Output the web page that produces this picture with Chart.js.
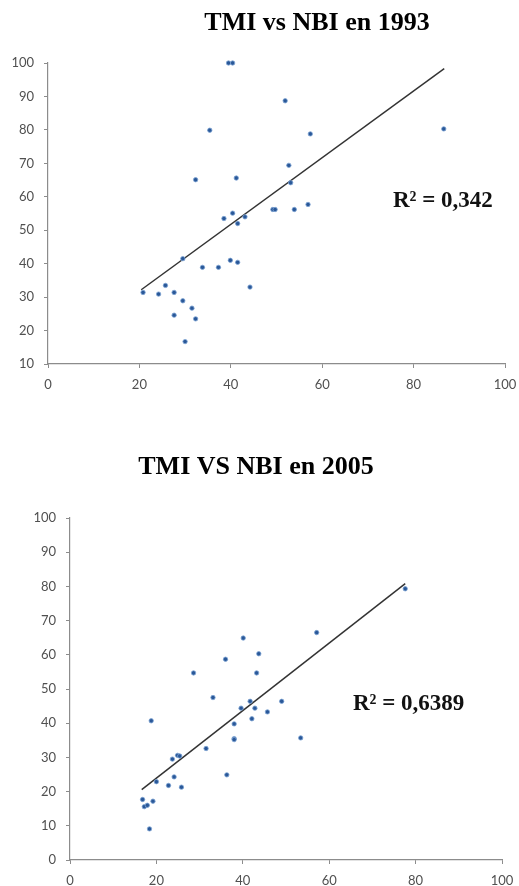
<!DOCTYPE html>
<html><head><meta charset="utf-8">
<script src="https://cdn.jsdelivr.net/npm/chart.js@4"></script>
<style>
html,body{margin:0;padding:0;background:#fff;overflow:hidden;width:519px;height:886px}
.wrap{position:absolute;left:0;width:519px}
#w1{top:0;height:420px}
#w2{top:440px;height:470px}
</style></head><body>
<div class="wrap" id="w1"><canvas id="c1"></canvas></div>
<div class="wrap" id="w2"><canvas id="c2"></canvas></div>
<script>
// ---- Data ----
const title1993 = 'TMI vs NBI en 1993';
const r2Label1993 = 'R² = 0,342';
const nbi1993 = [20.8,24.2,25.7,27.6,27.6,29.5,29.5,30.0,31.5,32.3,32.3,33.8,35.4,37.3,38.5,39.5,40.4,39.9,40.4,41.2,41.5,41.5,43.1,44.2,49.2,49.7,51.9,52.7,53.1,53.9,56.9,57.4,86.6];
const tmi1993 = [31.4,30.9,33.5,31.4,24.6,41.5,28.9,16.7,26.7,23.5,65.1,38.9,79.9,38.9,53.5,100,100,41.0,55.1,65.6,52.0,40.4,54.0,33.0,56.2,56.2,88.7,69.4,64.2,56.2,57.7,78.8,80.3];
const trendX1993 = [20.4, 86.7];
const trendY1993 = [32.2, 98.3];

const title2005 = 'TMI VS NBI en 2005';
const r2Label2005 = 'R² = 0,6389';
const nbi2005 = [16.8,17.2,17.9,18.4,18.8,19.2,20.0,22.8,23.7,24.1,24.9,25.4,25.8,28.6,31.5,33.1,36.0,36.3,38.0,38.0,38.0,39.6,40.1,41.7,42.1,42.8,43.2,43.7,45.7,49.0,53.4,57.1,77.6];
const tmi2005 = [17.7,15.6,16.0,9.1,40.7,17.2,22.9,21.8,29.5,24.3,30.6,30.4,21.3,54.7,32.6,47.5,58.7,24.9,39.8,35.5,35.2,44.4,64.9,46.4,41.3,44.4,54.7,60.3,43.3,46.4,35.7,66.5,79.3];
const trendX2005 = [16.6, 77.6];
const trendY2005 = [20.6, 80.8];

const xTicks = [0, 20, 40, 60, 80, 100];
const yTicks1993 = [10, 20, 30, 40, 50, 60, 70, 80, 90, 100];
const yTicks2005 = [0, 10, 20, 30, 40, 50, 60, 70, 80, 90, 100];

// ---- Helpers ----
const textPlugin = {
  id: 'texts',
  afterDraw(chart, args, opts) {
    const ctx = chart.ctx;
    (opts.items || []).forEach(it => {
      ctx.save();
      ctx.font = it.font;
      ctx.fillStyle = it.color;
      ctx.textAlign = it.align;
      ctx.textBaseline = 'middle';
      ctx.fillText(it.text, it.x, it.y);
      ctx.restore();
    });
  }
};

function pairs(xs, ys) { return xs.map((x, i) => ({x, y: ys[i]})); }
function zeroPad(s) { s.paddingLeft = 0; s.paddingRight = 0; s.paddingTop = 0; s.paddingBottom = 0; }

function makeChart(id, cfg) {
  const tickFont = {family: 'Lato', size: 13};
  const axisColor = '#8c8c8c';
  const ctx = document.getElementById(id);
  return new Chart(ctx, {
    type: 'scatter',
    data: {
      datasets: [
        {
          data: pairs(cfg.xs, cfg.ys),
          pointRadius: 2.2,
          pointBackgroundColor: '#2A5898',
          pointBorderColor: '#7FA4D4',
          pointBorderWidth: 0.8,
          clip: false,
          order: 1
        },
        {
          type: 'line',
          data: pairs(cfg.tx, cfg.ty),
          showLine: true,
          borderColor: '#333333',
          borderWidth: 1.5,
          pointRadius: 0,
          fill: false,
          clip: false,
          order: 2
        }
      ]
    },
    plugins: [textPlugin],
    options: {
      responsive: true,
      maintainAspectRatio: false,
      animation: false,
      events: [],
      layout: {padding: {top: cfg.padTop, right: cfg.padRight, left: 0, bottom: 0}},
      plugins: {
        legend: {display: false},
        tooltip: {enabled: false},
        texts: {items: cfg.texts}
      },
      scales: {
        x: {
          type: 'linear',
          min: xTicks[0], max: xTicks[xTicks.length - 1],
          afterBuildTicks: s => { s.ticks = xTicks.map(v => ({value: v})); },
          ticks: {color: '#505050', font: tickFont, padding: 9, maxRotation: 0},
          grid: {display: true, drawOnChartArea: false, drawTicks: true, tickLength: 4, color: axisColor},
          border: {display: true, color: axisColor, width: 1.2},
          afterFit: s => { s.height = cfg.xAxisH; zeroPad(s); }
        },
        y: {
          type: 'linear',
          min: cfg.yTicks[0], max: cfg.yTicks[cfg.yTicks.length - 1],
          afterBuildTicks: s => { s.ticks = cfg.yTicks.map(v => ({value: v})); },
          ticks: {color: '#505050', font: tickFont, padding: 10},
          grid: {display: true, drawOnChartArea: false, drawTicks: true, tickLength: 4, color: axisColor},
          border: {display: true, color: axisColor, width: 1.2},
          afterFit: s => { s.width = cfg.yAxisW; zeroPad(s); }
        }
      }
    }
  });
}

const titleFont = 'bold 26px "Liberation Serif", "DejaVu Serif", serif';
const r2Font = 'bold 23px "Liberation Serif", "DejaVu Serif", serif';

makeChart('c1', {
  xs: nbi1993, ys: tmi1993, tx: trendX1993, ty: trendY1993, yTicks: yTicks1993,
  padTop: 63, padRight: 14, yAxisW: 48, xAxisH: 56,
  texts: [
    {text: title1993, font: titleFont, color: '#000', align: 'center', x: 317, y: 23},
    {text: r2Label1993, font: r2Font, color: '#111', align: 'left', x: 393, y: 201}
  ]
});

makeChart('c2', {
  xs: nbi2005, ys: tmi2005, tx: trendX2005, ty: trendY2005, yTicks: yTicks2005,
  padTop: 78, padRight: 17, yAxisW: 70, xAxisH: 50,
  texts: [
    {text: title2005, font: titleFont, color: '#000', align: 'center', x: 256, y: 27.5},
    {text: r2Label2005, font: r2Font, color: '#111', align: 'left', x: 353, y: 264}
  ]
});
</script>
</body></html>
